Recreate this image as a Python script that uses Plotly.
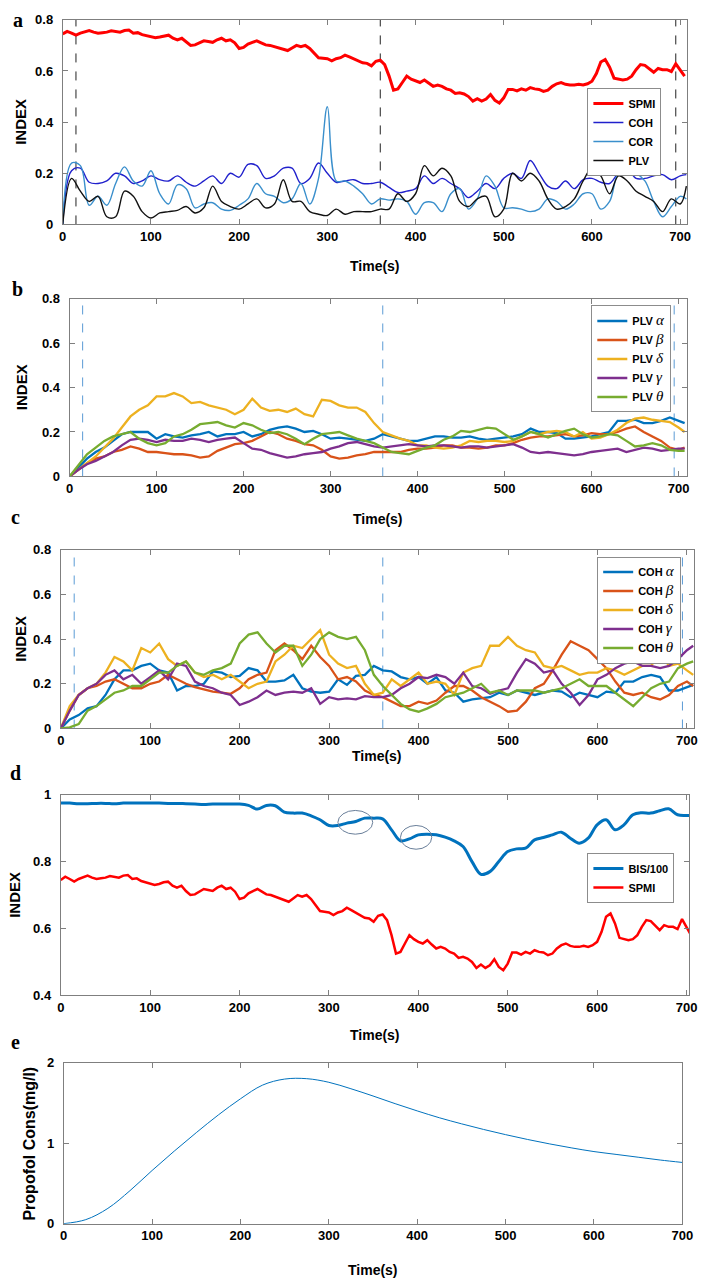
import plotly.graph_objects as go

# ---------------- data ----------------
# common 10 s time grid (+ last sample)
T10 = [0, 10, 20, 30, 40, 50, 60, 70, 80, 90,
       100, 110, 120, 130, 140, 150, 160, 170, 180, 190,
       200, 210, 220, 230, 240, 250, 260, 270, 280, 290,
       300, 310, 320, 330, 340, 350, 360, 370, 380, 390,
       400, 410, 420, 430, 440, 450, 460, 470, 480, 490,
       500, 510, 520, 530, 540, 550, 560, 570, 580, 590,
       600, 610, 620, 630, 640, 650, 660, 670, 680, 690,
       700, 707]

# SPMI is sampled every 5 s (0..705)
T5 = list(range(0, 710, 5))
SPMI = [0.745, 0.755, 0.748, 0.740, 0.748, 0.752, 0.758, 0.752, 0.748, 0.750,
        0.752, 0.757, 0.755, 0.752, 0.758, 0.760, 0.748, 0.750, 0.742, 0.738,
        0.735, 0.730, 0.733, 0.738, 0.740, 0.728, 0.722, 0.728, 0.712, 0.700,
        0.702, 0.710, 0.718, 0.715, 0.712, 0.722, 0.728, 0.718, 0.722, 0.710,
        0.688, 0.692, 0.705, 0.712, 0.718, 0.710, 0.702, 0.700, 0.695, 0.688,
        0.685, 0.680, 0.690, 0.700, 0.695, 0.700, 0.688, 0.670, 0.652, 0.650,
        0.648, 0.640, 0.648, 0.652, 0.662, 0.655, 0.648, 0.640, 0.632, 0.630,
        0.620, 0.638, 0.642, 0.625, 0.580, 0.525, 0.530, 0.555, 0.580, 0.568,
        0.560, 0.555, 0.565, 0.552, 0.540, 0.545, 0.540, 0.530, 0.525, 0.512,
        0.515, 0.510, 0.500, 0.482, 0.492, 0.482, 0.490, 0.508, 0.485, 0.475,
        0.495, 0.528, 0.528, 0.522, 0.530, 0.525, 0.535, 0.530, 0.528, 0.520,
        0.525, 0.540, 0.550, 0.555, 0.548, 0.545, 0.545, 0.548, 0.545, 0.550,
        0.560, 0.590, 0.635, 0.645, 0.615, 0.572, 0.568, 0.565, 0.568, 0.580,
        0.605, 0.625, 0.622, 0.608, 0.595, 0.610, 0.605, 0.605, 0.598, 0.628,
        0.605, 0.580]

# panel a
COH = [0, 0.21, 0.22, 0.165, 0.16, 0.17, 0.20, 0.19, 0.16, 0.17,
       0.19, 0.175, 0.17, 0.19, 0.165, 0.15, 0.17, 0.19, 0.16, 0.20,
       0.185, 0.235, 0.23, 0.18, 0.19, 0.22, 0.22, 0.16, 0.18, 0.24,
       0.20, 0.165, 0.17, 0.175, 0.16, 0.16, 0.165, 0.145, 0.125, 0.13,
       0.14, 0.19, 0.16, 0.18, 0.16, 0.14, 0.105, 0.13, 0.16, 0.14,
       0.18, 0.20, 0.18, 0.25, 0.20, 0.15, 0.14, 0.17, 0.14, 0.175,
       0.18, 0.165, 0.16, 0.20, 0.215, 0.18, 0.18, 0.19, 0.195, 0.175,
       0.19, 0.195]
COR = [0, 0.24, 0.23, 0.075, 0.11, 0.075, 0.16, 0.225, 0.17, 0.15,
       0.21, 0.12, 0.08, 0.155, 0.14, 0.065, 0.08, 0.085, 0.06, 0.055,
       0.075, 0.10, 0.16, 0.12, 0.11, 0.085, 0.10, 0.16, 0.08, 0.18,
       0.46, 0.17, 0.17, 0.15, 0.12, 0.08, 0.10, 0.095, 0.10, 0.09,
       0.04, 0.085, 0.085, 0.05, 0.12, 0.14, 0.06, 0.10, 0.19, 0.15,
       0.065, 0.065, 0.06, 0.05, 0.06, 0.10, 0.09, 0.06, 0.08, 0.12,
       0.12, 0.06, 0.09, 0.20, 0.21, 0.20, 0.17, 0.09, 0.03, 0.07,
       0.11, 0.10]
PLV = [0, 0.18, 0.13, 0.09, 0.11, 0.03, 0.03, 0.13, 0.11, 0.05,
       0.025, 0.045, 0.05, 0.055, 0.07, 0.045, 0.065, 0.15, 0.09, 0.07,
       0.06, 0.08, 0.10, 0.065, 0.08, 0.175, 0.09, 0.09, 0.05, 0.04,
       0.035, 0.06, 0.04, 0.05, 0.05, 0.05, 0.06, 0.06, 0.12, 0.09,
       0.12, 0.23, 0.19, 0.22, 0.19, 0.09, 0.07, 0.10, 0.11, 0.03,
       0.06, 0.20, 0.17, 0.20, 0.17, 0.10, 0.06, 0.07, 0.10, 0.17,
       0.22, 0.19, 0.12, 0.19, 0.17, 0.13, 0.11, 0.09, 0.05, 0.10,
       0.08, 0.15]

# panel b
PLV_ALPHA = [0, 0.04, 0.08, 0.11, 0.13, 0.16, 0.19, 0.20, 0.20, 0.20,
             0.17, 0.19, 0.18, 0.175, 0.185, 0.19, 0.20, 0.18, 0.19, 0.19,
             0.20, 0.18, 0.19, 0.21, 0.22, 0.225, 0.215, 0.20, 0.205, 0.19,
             0.17, 0.175, 0.17, 0.165, 0.16, 0.17, 0.19, 0.18, 0.17, 0.16,
             0.16, 0.17, 0.18, 0.18, 0.175, 0.175, 0.18, 0.17, 0.165, 0.17,
             0.175, 0.18, 0.19, 0.215, 0.20, 0.20, 0.195, 0.17, 0.17, 0.175,
             0.18, 0.19, 0.20, 0.25, 0.25, 0.255, 0.24, 0.24, 0.25, 0.265,
             0.25, 0.24]
PLV_BETA = [0, 0.03, 0.06, 0.08, 0.09, 0.11, 0.12, 0.135, 0.125, 0.11,
            0.11, 0.105, 0.10, 0.10, 0.095, 0.085, 0.09, 0.115, 0.13, 0.145,
            0.15, 0.16, 0.18, 0.20, 0.19, 0.17, 0.16, 0.145, 0.14, 0.12,
            0.09, 0.08, 0.085, 0.095, 0.10, 0.11, 0.11, 0.11, 0.11, 0.12,
            0.125, 0.125, 0.13, 0.14, 0.14, 0.13, 0.13, 0.125, 0.13, 0.14,
            0.14, 0.15, 0.165, 0.175, 0.18, 0.18, 0.185, 0.19, 0.18, 0.185,
            0.195, 0.19, 0.19, 0.20, 0.215, 0.225, 0.20, 0.18, 0.16, 0.13,
            0.12, 0.13]
PLV_DELTA = [0, 0.03, 0.06, 0.09, 0.13, 0.17, 0.22, 0.27, 0.30, 0.32,
             0.36, 0.36, 0.375, 0.36, 0.33, 0.335, 0.32, 0.31, 0.30, 0.28,
             0.30, 0.35, 0.31, 0.295, 0.30, 0.29, 0.305, 0.28, 0.27, 0.345,
             0.34, 0.32, 0.31, 0.31, 0.29, 0.24, 0.20, 0.185, 0.17, 0.16,
             0.14, 0.14, 0.13, 0.125, 0.13, 0.14, 0.16, 0.155, 0.16, 0.16,
             0.155, 0.16, 0.18, 0.20, 0.19, 0.20, 0.205, 0.20, 0.18, 0.20,
             0.17, 0.175, 0.19, 0.21, 0.24, 0.26, 0.265, 0.255, 0.25, 0.245,
             0.22, 0.20]
PLV_GAMMA = [0, 0.03, 0.055, 0.07, 0.09, 0.11, 0.14, 0.165, 0.17, 0.165,
             0.155, 0.165, 0.16, 0.16, 0.17, 0.165, 0.155, 0.165, 0.17, 0.175,
             0.15, 0.125, 0.12, 0.105, 0.095, 0.085, 0.09, 0.10, 0.105, 0.11,
             0.125, 0.135, 0.15, 0.155, 0.145, 0.135, 0.13, 0.135, 0.14, 0.145,
             0.14, 0.135, 0.14, 0.14, 0.135, 0.13, 0.135, 0.135, 0.13, 0.135,
             0.14, 0.145, 0.13, 0.11, 0.105, 0.11, 0.105, 0.10, 0.095, 0.10,
             0.11, 0.115, 0.12, 0.125, 0.11, 0.12, 0.13, 0.125, 0.115, 0.12,
             0.125, 0.125]
PLV_THETA = [0, 0.05, 0.10, 0.13, 0.16, 0.18, 0.19, 0.20, 0.17, 0.15,
             0.14, 0.15, 0.18, 0.19, 0.21, 0.235, 0.24, 0.245, 0.23, 0.22,
             0.24, 0.23, 0.21, 0.195, 0.20, 0.19, 0.17, 0.145, 0.17, 0.19,
             0.195, 0.20, 0.185, 0.17, 0.16, 0.15, 0.13, 0.11, 0.105, 0.10,
             0.115, 0.13, 0.14, 0.165, 0.18, 0.205, 0.20, 0.21, 0.22, 0.215,
             0.19, 0.165, 0.18, 0.20, 0.19, 0.175, 0.19, 0.205, 0.215, 0.19,
             0.175, 0.18, 0.19, 0.185, 0.16, 0.135, 0.14, 0.15, 0.14, 0.12,
             0.115, 0.115]

# panel c
COH_ALPHA = [0, 0.04, 0.06, 0.09, 0.10, 0.15, 0.22, 0.26, 0.26, 0.28,
             0.29, 0.26, 0.25, 0.17, 0.19, 0.19, 0.20, 0.255, 0.25, 0.23,
             0.235, 0.27, 0.26, 0.21, 0.21, 0.215, 0.24, 0.18, 0.165, 0.16,
             0.165, 0.22, 0.195, 0.235, 0.24, 0.28, 0.26, 0.255, 0.23, 0.22,
             0.23, 0.20, 0.23, 0.17, 0.16, 0.12, 0.13, 0.135, 0.14, 0.16,
             0.15, 0.17, 0.16, 0.15, 0.16, 0.17, 0.165, 0.14, 0.16, 0.15,
             0.14, 0.165, 0.16, 0.21, 0.21, 0.23, 0.24, 0.23, 0.17, 0.17,
             0.185, 0.195]
COH_BETA = [0, 0.08, 0.15, 0.18, 0.19, 0.21, 0.22, 0.20, 0.18, 0.18,
            0.20, 0.21, 0.24, 0.22, 0.20, 0.185, 0.175, 0.165, 0.16, 0.155,
            0.18, 0.22, 0.24, 0.25, 0.35, 0.38, 0.35, 0.31, 0.37, 0.32,
            0.28, 0.22, 0.23, 0.21, 0.17, 0.15, 0.14, 0.12, 0.10, 0.10,
            0.12, 0.11, 0.125, 0.16, 0.19, 0.19, 0.17, 0.14, 0.12, 0.10,
            0.075, 0.08, 0.12, 0.18, 0.20, 0.26, 0.33, 0.39, 0.37, 0.35,
            0.31, 0.27, 0.21, 0.16, 0.15, 0.16, 0.14, 0.13, 0.15, 0.19,
            0.21, 0.19]
COH_DELTA = [0, 0.10, 0.15, 0.18, 0.20, 0.25, 0.32, 0.30, 0.26, 0.36,
             0.34, 0.38, 0.31, 0.28, 0.30, 0.25, 0.23, 0.24, 0.22, 0.24,
             0.21, 0.18, 0.20, 0.21, 0.30, 0.33, 0.37, 0.36, 0.40, 0.44,
             0.33, 0.29, 0.27, 0.28, 0.20, 0.15, 0.16, 0.22, 0.19, 0.22,
             0.25, 0.20, 0.21, 0.20, 0.15, 0.25, 0.27, 0.28, 0.37, 0.37,
             0.41, 0.37, 0.35, 0.34, 0.28, 0.27, 0.28, 0.26, 0.24, 0.25,
             0.25, 0.27, 0.26, 0.24, 0.26, 0.28, 0.28, 0.34, 0.28, 0.29,
             0.26, 0.24]
COH_GAMMA = [0, 0.08, 0.15, 0.18, 0.20, 0.24, 0.26, 0.22, 0.24, 0.20,
             0.23, 0.26, 0.22, 0.29, 0.28, 0.21, 0.19, 0.18, 0.16, 0.15,
             0.105, 0.12, 0.14, 0.17, 0.15, 0.16, 0.165, 0.16, 0.18, 0.11,
             0.14, 0.13, 0.135, 0.13, 0.145, 0.14, 0.14, 0.15, 0.18, 0.20,
             0.23, 0.225, 0.24, 0.23, 0.20, 0.25, 0.19, 0.18, 0.155, 0.17,
             0.18, 0.25, 0.31, 0.29, 0.25, 0.26, 0.20, 0.16, 0.105, 0.15,
             0.22, 0.24, 0.27, 0.29, 0.30, 0.28, 0.28, 0.27, 0.28, 0.31,
             0.35, 0.37]
COH_THETA = [0, 0.005, 0.02, 0.08, 0.10, 0.13, 0.16, 0.17, 0.19, 0.19,
             0.22, 0.25, 0.25, 0.28, 0.30, 0.25, 0.24, 0.26, 0.27, 0.29,
             0.38, 0.42, 0.43, 0.38, 0.34, 0.37, 0.37, 0.28, 0.33, 0.40,
             0.43, 0.41, 0.40, 0.41, 0.35, 0.24, 0.19, 0.15, 0.11, 0.085,
             0.075, 0.09, 0.11, 0.14, 0.15, 0.16, 0.18, 0.20, 0.16, 0.17,
             0.15, 0.17, 0.17, 0.17, 0.16, 0.17, 0.18, 0.20, 0.22, 0.19,
             0.19, 0.19, 0.16, 0.13, 0.10, 0.14, 0.18, 0.20, 0.21, 0.27,
             0.29, 0.30]

# panel d
BIS_100 = [0.975, 0.975, 0.973, 0.973, 0.974, 0.974, 0.973, 0.975, 0.975, 0.975,
           0.975, 0.975, 0.974, 0.974, 0.973, 0.972, 0.971, 0.972, 0.972, 0.972,
           0.972, 0.968, 0.957, 0.968, 0.967, 0.948, 0.945, 0.945, 0.937, 0.925,
           0.908, 0.908, 0.915, 0.920, 0.930, 0.930, 0.928, 0.895, 0.862, 0.868,
           0.880, 0.882, 0.880, 0.873, 0.862, 0.845, 0.800, 0.762, 0.770, 0.800,
           0.830, 0.838, 0.840, 0.865, 0.872, 0.880, 0.888, 0.870, 0.855, 0.870,
           0.910, 0.925, 0.895, 0.910, 0.940, 0.946, 0.945, 0.952, 0.958, 0.940,
           0.938, 0.938]
# circled regions on the BIS curve: (t0, t1, y0, y1)
BIS_MARKS = [(310, 349, 0.882, 0.953), (380, 415, 0.837, 0.908)]

# panel e
T_PROP = [0, 25, 50, 75, 100, 125, 150, 175, 200, 225, 250, 275, 300, 325, 350,
          375, 400, 425, 450, 475, 500, 525, 550, 575, 600, 625, 650, 675, 700]
PROPOFOL = [0, 0.05, 0.19, 0.41, 0.66, 0.90, 1.13, 1.35, 1.55, 1.72, 1.795, 1.80, 1.755, 1.675, 1.585,
            1.49, 1.40, 1.315, 1.24, 1.17, 1.105, 1.045, 0.99, 0.94, 0.895, 0.86, 0.825, 0.79, 0.76]

EVENT_TIMES = [15, 360, 695]

# ---------------- layout helpers ----------------
W, H = 709, 1288
FONT = "Liberation Sans Narrow, Arial Narrow, Liberation Sans, Arial"
FONT_W = "Liberation Sans, Arial"
M_COLORS = ['#0072BD', '#D95319', '#EDB120', '#7E2F8E', '#77AC30']


def fx(p):
    return p / W


def fy(p):
    return 1 - p / H


# pixel boxes: left, right, top, bottom, xmax, yrange, dtick
PANELS = [
    dict(l=60, r=698, t=13, b=220, xmax=708, yr=[0, 0.8], dt=0.2),
    dict(l=67, r=698, t=295, b=475, xmax=710, yr=[0, 0.8], dt=0.2),
    dict(l=58, r=705, t=549, b=730, xmax=708, yr=[0, 0.8], dt=0.2),
    dict(l=58, r=700, t=797, b=1000, xmax=703, yr=[0.4, 1.0], dt=0.2),
    dict(l=61, r=693, t=1068, b=1231, xmax=700, yr=[0, 2], dt=1),
]


def greek(prefix, ch):
    return ("<b>%s</b> <span style='font-family:Liberation Serif;font-size:15px'><i>%s</i></span>"
            % (prefix, ch))


fig = go.Figure()

# panel a
fig.add_trace(go.Scatter(x=T5, y=SPMI, name='<b>SPMI</b>', mode='lines',
                         line=dict(color='#ff0000', width=3), xaxis='x', yaxis='y', legend='legend'))
fig.add_trace(go.Scatter(x=T10, y=COH, name='<b>COH</b>', mode='lines', line_shape='spline',
                         line=dict(color='#2020cc', width=1.4), xaxis='x', yaxis='y', legend='legend'))
fig.add_trace(go.Scatter(x=T10, y=COR, name='<b>COR</b>', mode='lines', line_shape='spline',
                         line=dict(color='#3a8fcc', width=1.4), xaxis='x', yaxis='y', legend='legend'))
fig.add_trace(go.Scatter(x=T10, y=PLV, name='<b>PLV</b>', mode='lines', line_shape='spline',
                         line=dict(color='#111111', width=1.4), xaxis='x', yaxis='y', legend='legend'))

# panel b
greeks = ['α', 'β', 'δ', 'γ', 'θ']
for ys, ch, c in zip([PLV_ALPHA, PLV_BETA, PLV_DELTA, PLV_GAMMA, PLV_THETA], greeks, M_COLORS):
    fig.add_trace(go.Scatter(x=T10, y=ys, name=greek('PLV', ch), mode='lines',
                             line=dict(color=c, width=2.3), xaxis='x2', yaxis='y2', legend='legend2'))

# panel c
for ys, ch, c in zip([COH_ALPHA, COH_BETA, COH_DELTA, COH_GAMMA, COH_THETA], greeks, M_COLORS):
    fig.add_trace(go.Scatter(x=T10, y=ys, name=greek('COH', ch), mode='lines',
                             line=dict(color=c, width=2.3), xaxis='x3', yaxis='y3', legend='legend3'))

# panel d
fig.add_trace(go.Scatter(x=T10, y=BIS_100, name='<b>BIS/100</b>', mode='lines', line_shape='spline',
                         line=dict(color='#0072BD', width=3), xaxis='x4', yaxis='y4', legend='legend4'))
fig.add_trace(go.Scatter(x=T5, y=SPMI, name='<b>SPMI</b>', mode='lines',
                         line=dict(color='#ff0000', width=2.5), xaxis='x4', yaxis='y4', legend='legend4'))

# panel e
fig.add_trace(go.Scatter(x=T_PROP, y=PROPOFOL, mode='lines', line_shape='spline', showlegend=False,
                         line=dict(color='#0072BD', width=1), xaxis='x5', yaxis='y5'))

axis_common = dict(showline=True, linecolor='#7f7f7f', linewidth=1, mirror='ticks',
                   ticks='inside', ticklen=5, tickcolor='#7f7f7f', showgrid=False, zeroline=False,
                   tickfont=dict(family=FONT, size=13, color='black', weight='bold'))

layout = dict(width=W, height=H, margin=dict(l=0, r=0, t=0, b=0),
              paper_bgcolor='white', plot_bgcolor='white', showlegend=True)

shapes = []
annotations = []
letters = ['a', 'b', 'c', 'd', 'e']
letter_pos = [(14, 13), (14, 285), (12, 516), (12, 775), (12, 1047)]
ytitle_x = [16, 18, 16, 10, 26]
xtitle_y = [262, 518, 758, 1040, 1278]

for i, p in enumerate(PANELS):
    n = '' if i == 0 else str(i + 1)
    layout['xaxis' + n] = dict(axis_common, domain=[fx(p['l']), fx(p['r'])], range=[0, p['xmax']],
                               tickvals=[0, 100, 200, 300, 400, 500, 600, 700],
                               anchor='y' + n)
    layout['yaxis' + n] = dict(axis_common, domain=[fy(p['b']), fy(p['t'])], range=p['yr'],
                               dtick=p['dt'], tick0=0, anchor='x' + n, ticklabelstandoff=6)
    # x title
    annotations.append(dict(text='<b>Time(s)</b>', x=fx((p['l'] + p['r']) / 2), y=fy(xtitle_y[i]),
                            xref='paper', yref='paper', showarrow=False, xanchor='center',
                            yanchor='middle', font=dict(family=FONT, size=14, color='black')))
    # y title
    ytxt = '<b>Propofol Cons(mg/l)</b>' if i == 4 else '<b>INDEX</b>'
    annotations.append(dict(text=ytxt, x=fx(ytitle_x[i]), y=fy((p['t'] + p['b']) / 2),
                            xref='paper', yref='paper', showarrow=False, textangle=-90,
                            xanchor='center', yanchor='middle',
                            font=dict(family=FONT_W, size=16 if i == 4 else 15, color='black')))
    lx, ly = letter_pos[i]
    annotations.append(dict(text='<b>%s</b>' % letters[i], x=fx(lx), y=fy(ly), xref='paper',
                            yref='paper', showarrow=False, xanchor='center', yanchor='middle',
                            font=dict(family='Liberation Serif, Times New Roman', size=20,
                                      color='black')))

# event markers
for i, col in [(0, '#222222'), (1, '#5b9bd5'), (2, '#5b9bd5')]:
    n = '' if i == 0 else str(i + 1)
    for t in EVENT_TIMES:
        shapes.append(dict(type='line', xref='x' + n, yref='y' + n + ' domain', x0=t, x1=t,
                           y0=0, y1=1, line=dict(color=col, width=1, dash='dash'), layer='below'))

for t0, t1, y0, y1 in BIS_MARKS:
    shapes.append(dict(type='circle', xref='x4', yref='y4', x0=t0, x1=t1, y0=y0, y1=y1,
                       line=dict(color='#6a7f9a', width=1)))

leg_common = dict(bgcolor='white', bordercolor='#8c8c8c', borderwidth=1, xanchor='left',
                  yanchor='top', font=dict(family=FONT, size=11, color='black'),
                  tracegroupgap=0, itemwidth=30)
layout['legend'] = dict(leg_common, x=fx(596), y=fy(82))
layout['legend2'] = dict(leg_common, x=fx(600), y=fy(302))
layout['legend3'] = dict(leg_common, x=fx(606), y=fy(556))
layout['legend4'] = dict(leg_common, x=fx(596), y=fy(856))

layout['shapes'] = shapes
layout['annotations'] = annotations
fig.update_layout(**layout)

fig.write_html("out.html", config={'displayModeBar': False},
               post_script="document.body.style.margin='0';")
